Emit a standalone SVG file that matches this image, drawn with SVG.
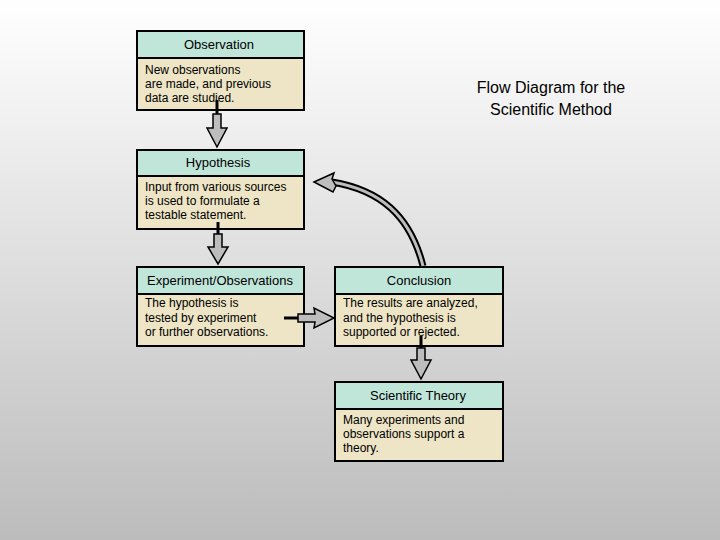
<svg xmlns="http://www.w3.org/2000/svg" width="720" height="540" viewBox="0 0 720 540">
<defs>
<linearGradient id="bg" x1="0" y1="0" x2="0" y2="1"><stop offset="0" stop-color="#ffffff"/><stop offset="1" stop-color="#bcbcbc"/></linearGradient>
</defs>
<style>
.h{fill:#c0e6da;stroke:#000;stroke-width:2}
.b{fill:#ede5c5;stroke:#000;stroke-width:2}
.ht{font-family:"Liberation Sans",Arial,sans-serif;font-size:13px;text-anchor:middle;fill:#000}
.bt{font-family:"Liberation Sans",Arial,sans-serif;font-size:12px;fill:#000}
.ar{fill:#bdbdbd;stroke:#000;stroke-width:1.5;stroke-linejoin:miter}
.ln{stroke:#000;stroke-width:3}
</style>
<rect width="720" height="540" fill="url(#bg)"/>
<text x="551" y="93" class="ht" style="font-size:16px">Flow Diagram for the</text>
<text x="551" y="115" class="ht" style="font-size:16px">Scientific Method</text>
<g id="observation">
<rect x="137" y="31" width="167" height="27" class="h"/><rect x="137" y="58" width="167" height="52" class="b"/>
<text x="219" y="49" class="ht">Observation</text>
<text class="bt" x="145" y="74">New observations</text><text class="bt" x="145" y="88">are made, and previous</text><text class="bt" x="145" y="102">data are studied.</text>
</g>
<g id="hypothesis">
<rect x="137" y="150" width="167" height="26" class="h"/><rect x="137" y="176" width="167" height="53" class="b"/>
<text x="218" y="167" class="ht">Hypothesis</text>
<text class="bt" x="145" y="191">Input from various sources</text><text class="bt" x="145" y="205">is used to formulate a</text><text class="bt" x="145" y="219">testable statement.</text>
</g>
<g id="experiment">
<rect x="137" y="267" width="167" height="27" class="h"/><rect x="137" y="294" width="167" height="52" class="b"/>
<text x="220" y="285" class="ht">Experiment/Observations</text>
<text class="bt" x="145" y="307">The hypothesis is</text><text class="bt" x="145" y="322">tested by experiment</text><text class="bt" x="145" y="336">or further observations.</text>
</g>
<g id="conclusion">
<rect x="335" y="267" width="168" height="27" class="h"/><rect x="335" y="294" width="168" height="52" class="b"/>
<text x="419" y="285" class="ht">Conclusion</text>
<text class="bt" x="343" y="307">The results are analyzed,</text><text class="bt" x="343" y="322">and the hypothesis is</text><text class="bt" x="343" y="336">supported or rejected.</text>
</g>
<g id="theory">
<rect x="335" y="382" width="168" height="27" class="h"/><rect x="335" y="409" width="168" height="52" class="b"/>
<text x="418" y="400" class="ht">Scientific Theory</text>
<text class="bt" x="343" y="424">Many experiments and</text><text class="bt" x="343" y="438">observations support a</text><text class="bt" x="343" y="452">theory.</text>
</g>
<g id="connectors">
<line x1="217" y1="100" x2="217" y2="118" class="ln"/>
<polygon class="ar" points="213,114 221,114 221,128 227,128 217,147 207,128 213,128"/>
<line x1="218" y1="222" x2="218" y2="238" class="ln"/>
<polygon class="ar" points="214,234 222,234 222,247 228,247 218,264 208,247 214,247"/>
<line x1="284" y1="318" x2="302" y2="318" class="ln"/>
<polygon class="ar" points="298,314 315,314 314,308 334,318 314,328 315,322 298,322"/>
<line x1="421" y1="336" x2="421" y2="352" class="ln"/>
<polygon class="ar" points="417,348 425,348 425,360 431,360 421,379 411,360 417,360"/>
<path d="M423,266 C410,215 380,190 332,182" fill="none" stroke="#000" stroke-width="7"/>
<path d="M423,266 C410,215 380,190 332,182" fill="none" stroke="#bdbdbd" stroke-width="3"/>
<polygon class="ar" points="314,182 334,173 332,179 336,186 333,192"/>
</g>
</svg>
